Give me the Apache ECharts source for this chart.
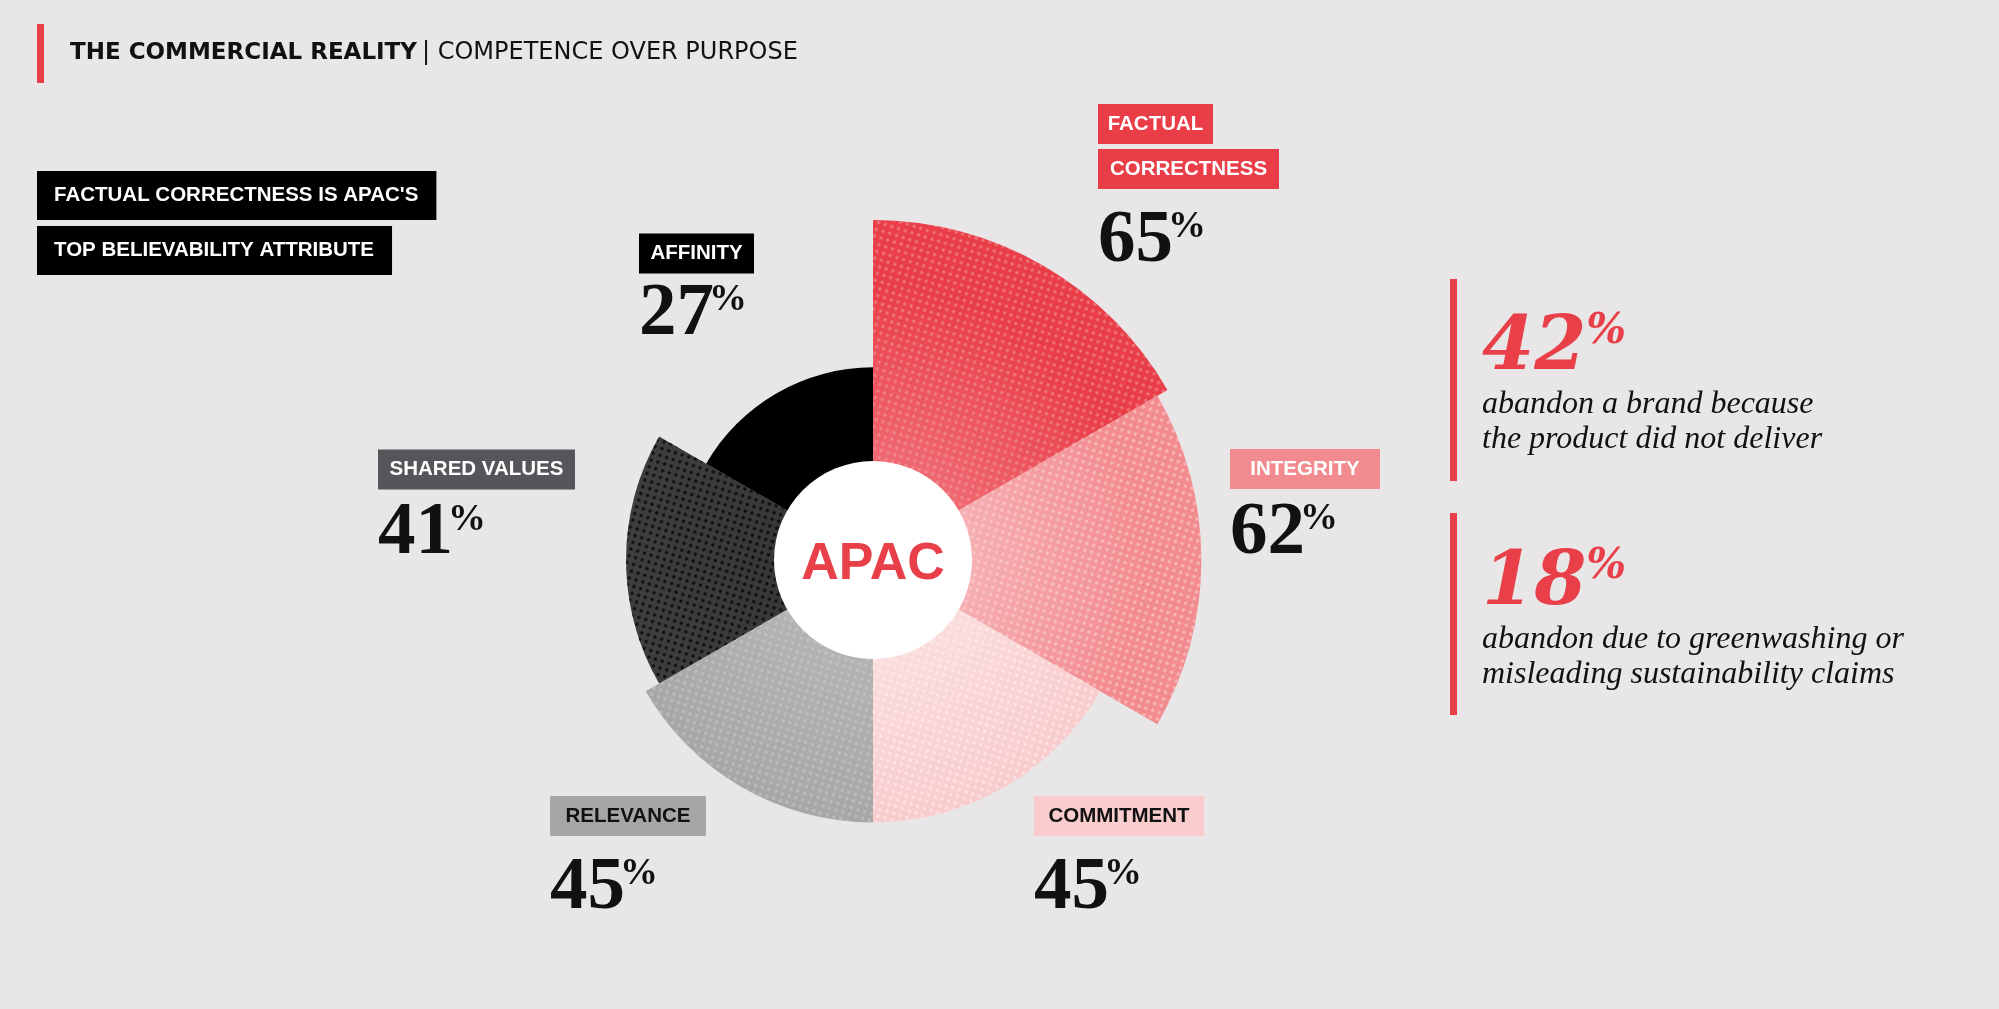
<!DOCTYPE html>
<html>
<head>
<meta charset="utf-8">
<title>APAC - competence over purpose</title>
<script src="https://cdnjs.cloudflare.com/ajax/libs/echarts/6.0.0/echarts.min.js"></script>
<style>
  html, body { margin: 0; padding: 0; background: #E8E6E7; }
  #chart { width: 1999px; height: 1009px; }
</style>
</head>
<body>
<div id="chart"></div>
<script>
'use strict';

// --- data ---
var categories = ['FACTUAL\nCORRECTNESS', 'INTEGRITY', 'COMMITMENT', 'RELEVANCE', 'SHARED VALUES', 'AFFINITY'];
var values = [65, 62, 45, 45, 41, 27];
var centerLabel = 'APAC';
var headerBold = 'THE COMMERCIAL REALITY';
var headerLight = '| COMPETENCE OVER PURPOSE';
var calloutLines = ["FACTUAL CORRECTNESS IS APAC'S", 'TOP BELIEVABILITY ATTRIBUTE'];
var statValues = [42, 18];
var statTexts = [
  ['abandon a brand because', 'the product did not deliver'],
  ['abandon due to greenwashing or', 'misleading sustainability claims']
];

// --- palette ---
var COL = {
  bg: '#E8E6E7',
  red: '#E83F48',
  ink: '#111111',
  white: '#FFFFFF'
};
var sliceOuter = ['#E93E47', '#F28B8F', '#F8CBCC', '#A6A6A6', '#3F3F3F', '#000000'];
var sliceInner = ['#EF6870', '#F6AEB1', '#FBDCDD', '#B3B3B3', '#383838', '#000000'];
var dotColors = [
  'rgba(250,170,175,0.5)',
  'rgba(255,215,217,0.6)',
  'rgba(255,238,238,0.7)',
  'rgba(205,205,205,0.55)',
  'rgba(0,0,0,0.8)',
  'rgba(0,0,0,0)'
];
var boxColors = ['#E93E47', '#F28B8F', '#F9CDCE', '#A6A6A6', '#55565A', '#000000'];
var boxText = ['#FFFFFF', '#FFFFFF', '#111111', '#111111', '#FFFFFF', '#FFFFFF'];

// --- layout ---
var CX = 873, CY = 560, R0 = 88, R1 = 340, HOLE = 99;
// [left, top, spacer before the number]
var LABEL_POS = [
  [1098, 101.5, 12.6],
  [1230, 446.5, 4.6],
  [1034, 793.5, 12.6],
  [550, 793.5, 12.6],
  [378, 447, 4.6],
  [639, 231, 1]
];
// width of each name box, one per line
var BOX_W = [[115, 181], [150], [170], [156], [197], [115]];
var SANS = '"Liberation Sans", Arial, sans-serif';
var SERIF = '"Liberation Serif", "Times New Roman", serif';
var DSERIF = '"DejaVu Serif", serif';
var BOX_FONT = 'bold 20.5px ' + SANS;

var measureCtx = document.createElement('canvas').getContext('2d');
function textWidth(str, font) {
  measureCtx.font = font;
  return measureCtx.measureText(str).width;
}

function radial(inner, outer) {
  return {
    type: 'radial', x: CX, y: CY, r: R1, global: true,
    colorStops: [
      { offset: 0, color: inner },
      { offset: 0.3, color: inner },
      { offset: 0.8, color: outer },
      { offset: 1, color: outer }
    ]
  };
}

var rich = {
  // negative right padding pulls the % sign up against the digits
  num: { fontFamily: SERIF, fontWeight: 'bold', fontSize: 75, lineHeight: 75, padding: [0, -5, 0, 0], color: COL.ink },
  pct: { fontFamily: SERIF, fontWeight: 'bold', fontSize: 38, height: 47, lineHeight: 47, verticalAlign: 'top', color: COL.ink }
};
categories.forEach(function (c, i) {
  c.split('\n').forEach(function (s, j) {
    // centre the word inside a box of the measured width
    var pad = Math.max(4, (BOX_W[i][j] - textWidth(s, BOX_FONT)) / 2);
    rich['b' + i + '_' + j] = {
      fontFamily: SANS, fontWeight: 'bold', fontSize: 20.5,
      color: boxText[i], backgroundColor: boxColors[i],
      height: 40, lineHeight: 45, padding: [0, pad, 0, pad]
    };
  });
  rich['sp' + i] = { fontSize: 1, lineHeight: LABEL_POS[i][2] };
});

var roseData = values.map(function (v, i) {
  return {
    name: categories[i],
    value: v,
    itemStyle: {
      color: radial(sliceInner[i], sliceOuter[i]),
      decal: {
        symbol: 'circle', symbolSize: 0.85,
        dashArrayX: [[4, 3]], dashArrayY: [4, 3],
        rotation: 0.3, color: dotColors[i]
      }
    }
  };
});

var statTitles = statValues.map(function (v, k) {
  return {
    left: 1482,
    top: 313 + k * 235,
    padding: 0,
    text: '{n|' + v + '}{p|%}\n' + statTexts[k].map(function (t) { return '{t|' + t + '}'; }).join('\n'),
    textStyle: {
      rich: {
        n: { fontFamily: DSERIF, fontWeight: 'bold', fontStyle: 'italic', fontSize: 75, lineHeight: 74, color: COL.red },
        p: { fontFamily: DSERIF, fontWeight: 'bold', fontStyle: 'italic', fontSize: 42, height: 38, lineHeight: 38, verticalAlign: 'top', color: COL.red },
        t: { fontFamily: SERIF, fontWeight: 'normal', fontStyle: 'italic', fontSize: 32, lineHeight: 35, color: COL.ink }
      }
    }
  };
});

var option = {
  backgroundColor: COL.bg,
  animation: false,
  title: [
    {
      left: 70, top: 39, padding: 0,
      text: '{b|' + headerBold + '} {r|' + headerLight + '}',
      textStyle: {
        rich: {
          b: { fontFamily: '"DejaVu Sans", sans-serif', fontWeight: 'bold', fontSize: 23, lineHeight: 28, color: COL.ink },
          r: { fontFamily: '"DejaVu Sans", sans-serif', fontWeight: 'normal', fontSize: 24, lineHeight: 28, color: COL.ink }
        }
      }
    },
    {
      left: 37, top: 168, padding: 0,
      text: calloutLines.map(function (t) { return '{k|' + t + '}'; }).join('\n'),
      textStyle: {
        rich: {
          k: {
            fontFamily: SANS, fontWeight: 'bold', fontSize: 20.5, color: COL.white,
            backgroundColor: '#000000', height: 49, lineHeight: 55, padding: [0, 18, 0, 17]
          }
        }
      }
    }
  ].concat(statTitles),
  graphic: [
    { type: 'rect', shape: { x: 37, y: 24, width: 7, height: 59 }, style: { fill: COL.red }, silent: true },
    { type: 'rect', shape: { x: 1450, y: 279, width: 7, height: 202 }, style: { fill: COL.red }, silent: true },
    { type: 'rect', shape: { x: 1450, y: 513, width: 7, height: 202 }, style: { fill: COL.red }, silent: true }
  ],
  series: [
    {
      type: 'pie',
      name: 'Believability',
      roseType: 'area',
      center: [CX, CY],
      radius: [R0, R1],
      startAngle: 90,
      clockwise: true,
      avoidLabelOverlap: false,
      silent: true,
      itemStyle: { borderWidth: 0 },
      label: {
        show: true,
        position: 'outside',
        formatter: function (p) {
          var i = p.dataIndex;
          var boxes = p.name.split('\n').map(function (s, j) { return '{b' + i + '_' + j + '|' + s + '}'; });
          return boxes.join('\n') + '\n{sp' + i + '| }\n{num|' + p.value + '}{pct|%}';
        },
        rich: rich
      },
      labelLine: { show: false },
      labelLayout: function (p) {
        var pos = LABEL_POS[p.dataIndex];
        return { x: pos[0], y: pos[1], align: 'left', verticalAlign: 'top' };
      },
      data: roseData
    },
    {
      type: 'pie',
      name: 'Region',
      center: [CX, CY],
      radius: [0, HOLE],
      silent: true,
      itemStyle: { color: COL.white, borderWidth: 0 },
      label: {
        show: true,
        position: 'center',
        formatter: '{b}',
        offset: [0, 5],
        fontFamily: SANS,
        fontWeight: 'bold',
        fontSize: 52,
        color: COL.red
      },
      labelLine: { show: false },
      data: [{ name: centerLabel, value: 1 }]
    }
  ]
};

var chart = echarts.init(document.getElementById('chart'), null, { renderer: 'canvas' });
chart.setOption(option);
</script>
</body>
</html>
